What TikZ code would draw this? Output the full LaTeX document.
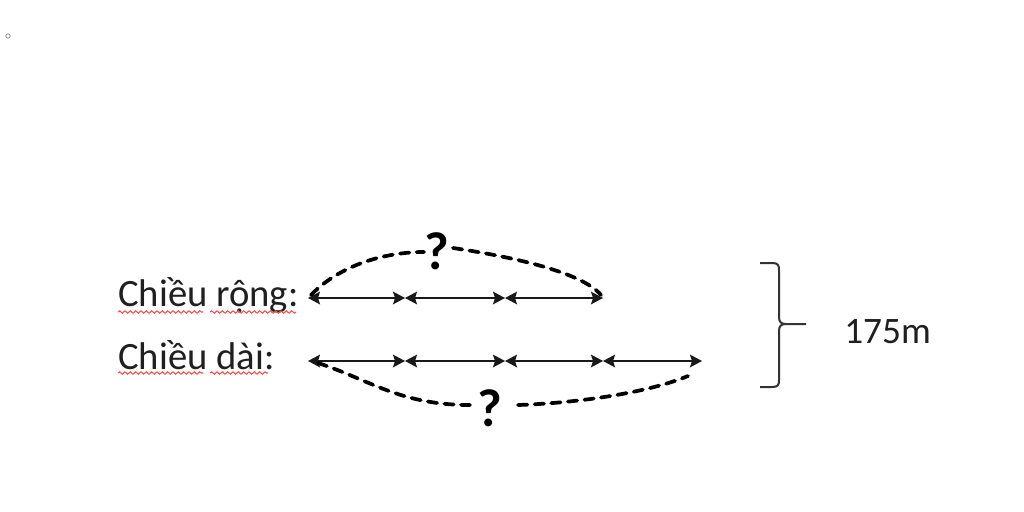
\documentclass[tikz,border=0pt]{standalone}
\usepackage{fontspec}
\setmainfont{Carlito}
\usetikzlibrary{arrows.meta,decorations.pathmorphing}
\begin{document}
\begin{tikzpicture}[x=0.75pt,y=-0.75pt,
  seg/.style={{Stealth[length=9pt,width=9.5pt,inset=1.5pt]}-{Stealth[length=9pt,width=9.5pt,inset=1.5pt]}, line width=1.3pt, black!90},
  hand/.style={line width=2.8pt, black, dash pattern=on 7pt off 5.5pt, line cap=round},
  lbl/.style={inner sep=0pt, anchor=base west, text=black!88, font=\fontsize{29}{34}\selectfont},
  qm/.style={inner sep=0pt, font=\fontsize{40}{44}\selectfont\bfseries},
  squig/.style={red!70!white, line width=0.8pt, decorate, decoration={snake, segment length=4pt, amplitude=0.9pt}},
  bracestyle/.style={line width=1.5pt, black!80, line join=round}]
\useasboundingbox (0,0) rectangle (1024,511);
\fill[white] (0,0) rectangle (1024,511);
% small mark top left
\draw[black!45, line width=0.6pt] (8,36) circle (2.2);
% labels
\node[lbl] (wl) at (118,306) {Chiều rộng:};
\node[lbl] (ll) at (118,369) {Chiều dài:};
\draw[squig] (118,312) -- (203,312);
\draw[squig] (210,312) -- (296,312);
\draw[squig] (118,373) -- (203,373);
\draw[squig] (210,373) -- (268,373);
% width arrows
\coordinate (r0) at (308,298);
\coordinate (r1) at (405,298);
\coordinate (r2) at (505,298);
\coordinate (r3) at (603,298);
\draw[seg] (r0) -- (r1);
\draw[seg] (r1) -- (r2);
\draw[seg] (r2) -- (r3);
% length arrows
\coordinate (d0) at (308,361);
\coordinate (d1) at (405,361);
\coordinate (d2) at (505,361);
\coordinate (d3) at (603,361);
\coordinate (d4) at (702,361);
\draw[seg] (d0) -- (d1);
\draw[seg] (d1) -- (d2);
\draw[seg] (d2) -- (d3);
\draw[seg] (d3) -- (d4);
% question marks
\node[qm] (q1) at (437,251) {?};
\node[qm] (q2) at (490,408) {?};
% top dashed curve
\coordinate (t0) at (311,295);
\coordinate (t1) at (424,252);
\coordinate (t2) at (453,248);
\coordinate (t3) at (601,295);
\draw[hand] (t0) .. controls (340,265) and (385,252) .. (t1);
\draw[hand] (t2) .. controls (500,255) and (580,270) .. (t3);
% bottom dashed curve
\coordinate (b0) at (318,363);
\coordinate (b1) at (470,405);
\coordinate (b2) at (518,405);
\coordinate (b3) at (688,376);
\draw[hand] (b0) .. controls (370,380) and (400,405) .. (b1);
\draw[hand] (b2) .. controls (580,403) and (650,392) .. (b3);
% brace
\coordinate (bt) at (760,263);
\coordinate (bm) at (806,324);
\coordinate (bb) at (760,387);
\draw[bracestyle] (bt) -- (772,263) .. controls (778,263) and (779,265) .. (779,270)
  -- (779,317) .. controls (779,322) and (781,324) .. (786,324) -- (bm);
\draw[bracestyle] (786,324) .. controls (781,324) and (779,326) .. (779,331)
  -- (779,380) .. controls (779,385) and (778,387) .. (772,387) -- (bb);
\node[lbl, font=\fontsize{28}{33}\selectfont] (tot) at (844,343) {175m};
\end{tikzpicture}
\end{document}
